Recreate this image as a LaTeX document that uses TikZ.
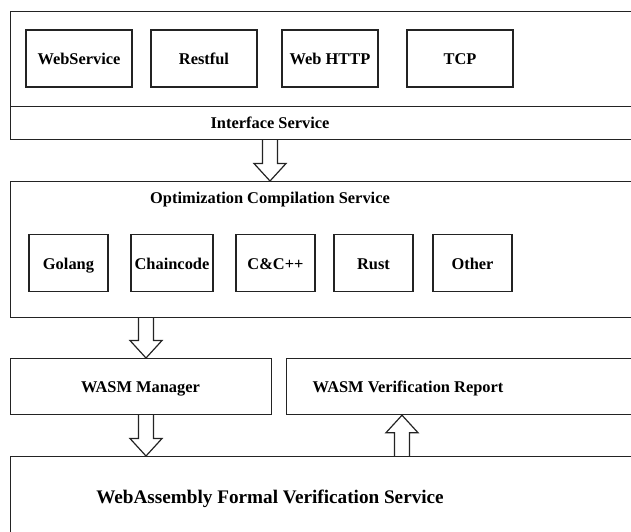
\documentclass[tikz,border=0pt]{standalone}
\usepackage{fontspec}
\setmainfont{Liberation Serif}
\usepackage{tikz}
\usepackage{xcolor}
\usetikzlibrary{calc, positioning}
\definecolor{frame-gray}{RGB}{35,35,35}

\tikzset{
  frame/.style={draw=frame-gray, line width=0.6pt, fill=none, inner sep=0pt, anchor=north west},
  item/.style={draw=frame-gray, line width=0.6pt, inner sep=0pt, minimum height=28.5pt, text height=6.6pt, text depth=0.6pt, font=\fontsize{8.2}{10}\selectfont\bfseries},
  title/.style={inner sep=0pt, text height=6.6pt, text depth=0.6pt, font=\fontsize{8.2}{10}\selectfont\bfseries},
  fatline/.style={draw=frame-gray, line width=0.6pt, line join=miter}
}
\newcommand{\fatarrow}[2]{%
  \draw[fatline] let \p1=(#1), \p2=(#2), \n1={ifthenelse(\y2<\y1,1,-1)} in
    ({\x1-3.75pt},\y1) -- ({\x1-3.75pt},{\y2+\n1*8.75pt}) -- ({\x1-8pt},{\y2+\n1*8.75pt})
    -- (\x2,\y2) -- ({\x1+8pt},{\y2+\n1*8.75pt}) -- ({\x1+3.75pt},{\y2+\n1*8.75pt}) -- ({\x1+3.75pt},\y1);}

\begin{document}
\begin{tikzpicture}[x=0.5pt, y=-0.5pt]
  \useasboundingbox (0,0) rectangle (631,531);

  % interface layer
  \node[frame, minimum width=345pt, minimum height=47.5pt] (ifacetop) at (10,11) {};
  \node[frame, minimum width=345pt, minimum height=16.5pt] (iface) at (10,106) {};
  \node[title] (ifacelbl) at (270,122) {Interface Service};
  \node[item, minimum width=53pt] (websvc) at (79,58.5) {WebService};
  \node[item, minimum width=53pt] (restful) at (204,58.5) {Restful};
  \node[item, minimum width=48pt] (webhttp) at (330,58.5) {Web HTTP};
  \node[item, minimum width=53pt] (tcp) at (460,58.5) {TCP};

  % compilation layer
  \node[frame, minimum width=345pt, minimum height=68pt] (ocs) at (10,181) {};
  \node[title] (ocslbl) at (270,197) {Optimization Compilation Service};
  \node[item, minimum width=39.5pt] (golang) at (68.5,263) {Golang};
  \node[item, minimum width=41pt] (chaincode) at (172,263) {Chaincode};
  \node[item, minimum width=39.5pt] (ccpp) at (275.5,263) {C\&C++};
  \node[item, minimum width=39.5pt] (rust) at (373.5,263) {Rust};
  \node[item, minimum width=39.5pt] (other) at (472.5,263) {Other};

  % wasm manager / report
  \node[frame, minimum width=130.5pt, minimum height=28pt] (mgr) at (10,358) {};
  \node[title] (mgrlbl) at (140.5,386) {WASM Manager};
  \node[frame, minimum width=207pt, minimum height=28pt] (report) at (286,358) {};
  \node[title] (reportlbl) at (408,386) {WASM Verification Report};

  % formal verification service
  \node[title, text height=7.6pt, text depth=0.8pt, font=\fontsize{9.6}{12}\selectfont\bfseries] (fvslbl) at (270,497) {WebAssembly Formal Verification Service};
  \node[frame, minimum width=345pt, minimum height=57pt] (fvs) at (10,456) {};

  % block arrows
  \coordinate (ax1) at (270,0);
  \coordinate (ax2) at (146,0);
  \coordinate (ax4) at (402,0);
  \fatarrow{iface.south -| ax1}{ocs.north -| ax1}
  \fatarrow{ocs.south -| ax2}{mgr.north -| ax2}
  \fatarrow{mgr.south -| ax2}{fvs.north -| ax2}
  \fatarrow{fvs.north -| ax4}{report.south -| ax4}
\end{tikzpicture}
\end{document}
